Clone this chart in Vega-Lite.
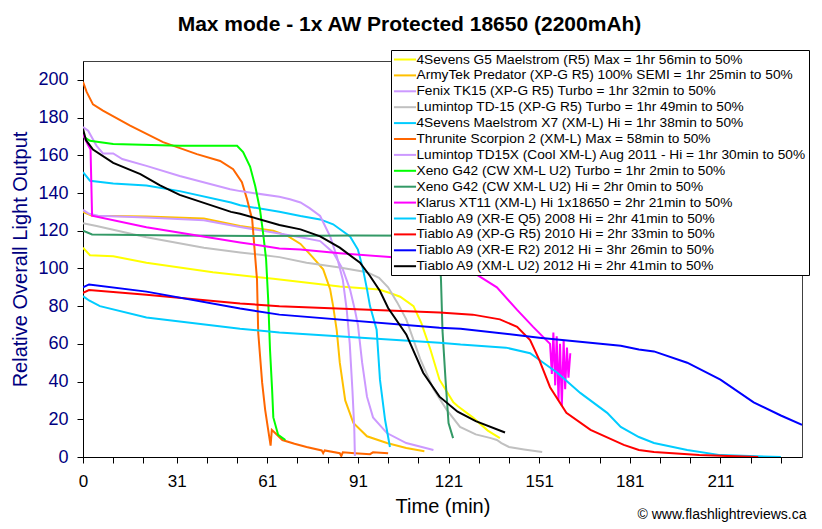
{
  "$schema": "https://vega.github.io/schema/vega-lite/v6.json",
  "width": 719,
  "height": 396,
  "autosize": {"type": "none"},
  "padding": {"left": 83, "top": 61, "right": 20, "bottom": 72},
  "background": "white",
  "title": {"text": "Max mode - 1x AW Protected 18650 (2200mAh)", "font": "Liberation Sans", "fontSize": 21, "fontWeight": "bold", "color": "black", "anchor": "middle", "dx": -33, "offset": 15},
  "config": {"view": {"stroke": "#404040", "strokeWidth": 1}, "font": "Liberation Sans", "axis": {"labelOverlap": false, "labelFlush": false, "grid": false, "tickCount": 100}},
  "datasets": {
    "names": [
      {"s": 1, "name": "4Sevens G5 Maelstrom (R5) Max = 1hr 56min to 50%"},
      {"s": 2, "name": "ArmyTek Predator (XP-G R5) 100% SEMI = 1hr 25min to 50%"},
      {"s": 3, "name": "Fenix TK15 (XP-G R5) Turbo = 1hr 32min to 50%"},
      {"s": 4, "name": "Lumintop TD-15 (XP-G R5) Turbo = 1hr 49min to 50%"},
      {"s": 5, "name": "4Sevens Maelstrom X7 (XM-L) Hi = 1hr 38min to 50%"},
      {"s": 6, "name": "Thrunite Scorpion 2 (XM-L) Max = 58min to 50%"},
      {"s": 7, "name": "Lumintop TD15X (Cool XM-L) Aug 2011 - Hi = 1hr 30min to 50%"},
      {"s": 8, "name": "Xeno G42 (CW XM-L U2) Turbo = 1hr 2min to 50%"},
      {"s": 9, "name": "Xeno G42 (CW XM-L U2) Hi = 2hr 0min to 50%"},
      {"s": 10, "name": "Klarus XT11 (XM-L) Hi 1x18650 = 2hr 21min to 50%"},
      {"s": 11, "name": "Tiablo A9 (XR-E Q5) 2008 Hi = 2hr 41min to 50%"},
      {"s": 12, "name": "Tiablo A9 (XP-G R5) 2010 Hi = 2hr 33min to 50%"},
      {"s": 13, "name": "Tiablo A9 (XR-E R2) 2012 Hi = 3hr 26min to 50%"},
      {"s": 14, "name": "Tiablo A9 (XM-L U2) 2012 Hi = 2hr 41min to 50%"}
    ],
    "pts": [
      {"s":1,"t":0,"v":111},{"s":1,"t":2.3,"v":107},{"s":1,"t":10,"v":106.5},{"s":1,"t":21,"v":103},{"s":1,"t":43,"v":98},{"s":1,"t":63,"v":94.5},{"s":1,"t":85,"v":90.4},{"s":1,"t":98,"v":88.8},{"s":1,"t":101.6,"v":87},{"s":1,"t":105,"v":85},{"s":1,"t":109.4,"v":80},{"s":1,"t":112,"v":71},{"s":1,"t":115,"v":57},{"s":1,"t":118,"v":41},{"s":1,"t":122.6,"v":29},{"s":1,"t":124,"v":27},{"s":1,"t":129,"v":21},{"s":1,"t":134,"v":14},{"s":1,"t":138,"v":10},
      {"s":2,"t":0,"v":130},{"s":2,"t":3,"v":128},{"s":2,"t":21,"v":127.5},{"s":2,"t":40,"v":126.5},{"s":2,"t":52,"v":122.5},{"s":2,"t":63,"v":120},{"s":2,"t":68,"v":117},{"s":2,"t":72,"v":113},{"s":2,"t":76,"v":106},{"s":2,"t":79.5,"v":99.5},{"s":2,"t":81.8,"v":89},{"s":2,"t":82.8,"v":80},{"s":2,"t":84,"v":67},{"s":2,"t":85,"v":50},{"s":2,"t":86.8,"v":30},{"s":2,"t":89.5,"v":18},{"s":2,"t":94,"v":11},{"s":2,"t":100.6,"v":7.4},{"s":2,"t":107,"v":4.8},{"s":2,"t":113,"v":3},
      {"s":3,"t":0,"v":131},{"s":3,"t":2,"v":129},{"s":3,"t":5,"v":128},{"s":3,"t":21,"v":127},{"s":3,"t":40,"v":125.5},{"s":3,"t":52,"v":122},{"s":3,"t":65,"v":118.5},{"s":3,"t":72,"v":116.5},{"s":3,"t":78.5,"v":114.5},{"s":3,"t":82.8,"v":108.5},{"s":3,"t":86,"v":99.5},{"s":3,"t":88.4,"v":88.8},{"s":3,"t":90,"v":78},{"s":3,"t":91,"v":70},{"s":3,"t":92.4,"v":50},{"s":3,"t":94,"v":32},{"s":3,"t":96,"v":21},{"s":3,"t":100.6,"v":12.7},{"s":3,"t":107,"v":7.4},{"s":3,"t":116,"v":3.7},
      {"s":4,"t":0,"v":124},{"s":4,"t":4.5,"v":122.5},{"s":4,"t":21,"v":116.5},{"s":4,"t":40,"v":111},{"s":4,"t":52,"v":108.5},{"s":4,"t":65,"v":106},{"s":4,"t":74,"v":103},{"s":4,"t":85,"v":100.5},{"s":4,"t":94,"v":98},{"s":4,"t":98,"v":95},{"s":4,"t":101,"v":90},{"s":4,"t":104,"v":82},{"s":4,"t":107,"v":73},{"s":4,"t":111.6,"v":52},{"s":4,"t":116,"v":36},{"s":4,"t":120.4,"v":25},{"s":4,"t":124.8,"v":16},{"s":4,"t":130,"v":12},{"s":4,"t":135,"v":10},{"s":4,"t":137,"v":9},{"s":4,"t":138.5,"v":7.4},{"s":4,"t":141,"v":5.3},{"s":4,"t":146,"v":4},{"s":4,"t":152,"v":2.6},
      {"s":5,"t":0,"v":151},{"s":5,"t":2.3,"v":146.5},{"s":5,"t":10,"v":145},{"s":5,"t":21,"v":144},{"s":5,"t":32,"v":141},{"s":5,"t":49,"v":135},{"s":5,"t":52,"v":133.5},{"s":5,"t":65,"v":130},{"s":5,"t":72,"v":127.8},{"s":5,"t":78.5,"v":126},{"s":5,"t":82.8,"v":123.4},{"s":5,"t":88.4,"v":117},{"s":5,"t":91,"v":110},{"s":5,"t":92.7,"v":99.5},{"s":5,"t":94,"v":89},{"s":5,"t":95,"v":80},{"s":5,"t":97.2,"v":67.5},{"s":5,"t":98.3,"v":41},{"s":5,"t":100,"v":19.6},{"s":5,"t":101.6,"v":5.3},
      {"s":6,"t":0,"v":199},{"s":6,"t":1.2,"v":193.6},{"s":6,"t":3.3,"v":187},{"s":6,"t":6.6,"v":183.7},{"s":6,"t":15.6,"v":175.7},{"s":6,"t":26.5,"v":167},{"s":6,"t":37.7,"v":160.6},{"s":6,"t":45.4,"v":157},{"s":6,"t":49.7,"v":152.6},{"s":6,"t":52.6,"v":145.7},{"s":6,"t":54.3,"v":136.7},{"s":6,"t":56,"v":126},{"s":6,"t":57,"v":106},{"s":6,"t":57.6,"v":94},{"s":6,"t":58,"v":66},{"s":6,"t":59.3,"v":39.4},{"s":6,"t":60.3,"v":25},{"s":6,"t":61.3,"v":14.4},{"s":6,"t":62.1,"v":6},{"s":6,"t":62.5,"v":14.4},{"s":6,"t":63.6,"v":12.7},{"s":6,"t":66,"v":9},{"s":6,"t":70,"v":7},{"s":6,"t":74,"v":5.3},{"s":6,"t":79,"v":3.5},{"s":6,"t":79.5,"v":2},{"s":6,"t":80,"v":3.5},{"s":6,"t":85,"v":2},{"s":6,"t":85.5,"v":0.5},{"s":6,"t":86,"v":2.5},{"s":6,"t":90,"v":2},{"s":6,"t":95,"v":1.5},{"s":6,"t":96,"v":2.5},{"s":6,"t":101,"v":2},
      {"s":7,"t":0,"v":175},{"s":7,"t":1.7,"v":173},{"s":7,"t":4.5,"v":165},{"s":7,"t":6.6,"v":161},{"s":7,"t":10,"v":161},{"s":7,"t":13,"v":158},{"s":7,"t":21,"v":154.4},{"s":7,"t":32,"v":149},{"s":7,"t":48.7,"v":142},{"s":7,"t":52,"v":141},{"s":7,"t":65,"v":138},{"s":7,"t":68.5,"v":136.7},{"s":7,"t":72,"v":135},{"s":7,"t":75,"v":132},{"s":7,"t":78.5,"v":127.8},{"s":7,"t":81.8,"v":117},{"s":7,"t":84,"v":106.5},{"s":7,"t":86,"v":94},{"s":7,"t":87.3,"v":78},{"s":7,"t":88.3,"v":60},{"s":7,"t":89.2,"v":35},{"s":7,"t":89.8,"v":15},{"s":7,"t":90,"v":0.5},
      {"s":8,"t":0,"v":170},{"s":8,"t":2.3,"v":167.7},{"s":8,"t":10,"v":166},{"s":8,"t":32,"v":165},{"s":8,"t":51,"v":165},{"s":8,"t":53,"v":161.7},{"s":8,"t":55.3,"v":154},{"s":8,"t":57,"v":143.7},{"s":8,"t":58.6,"v":131},{"s":8,"t":59.6,"v":119},{"s":8,"t":60.6,"v":105},{"s":8,"t":61.3,"v":83.5},{"s":8,"t":61.9,"v":57},{"s":8,"t":62.6,"v":35.6},{"s":8,"t":63,"v":21},{"s":8,"t":64.6,"v":11.7},{"s":8,"t":67,"v":9},
      {"s":9,"t":0,"v":120},{"s":9,"t":3,"v":118},{"s":9,"t":32,"v":117.5},{"s":9,"t":60,"v":117.2},{"s":9,"t":90,"v":117.5},{"s":9,"t":117.5,"v":117.3},{"s":9,"t":118,"v":110},{"s":9,"t":118.5,"v":94},{"s":9,"t":119,"v":67},{"s":9,"t":120,"v":41},{"s":9,"t":121,"v":18},{"s":9,"t":122.5,"v":10},
      {"s":10,"t":0,"v":171},{"s":10,"t":1.5,"v":166},{"s":10,"t":2.5,"v":163},{"s":10,"t":3,"v":128},{"s":10,"t":21,"v":121.8},{"s":10,"t":52,"v":113.8},{"s":10,"t":65,"v":110.6},{"s":10,"t":72,"v":110},{"s":10,"t":85,"v":108},{"s":10,"t":101.6,"v":106},{"s":10,"t":118,"v":103},{"s":10,"t":125,"v":101},{"s":10,"t":129,"v":98},{"s":10,"t":137,"v":90},{"s":10,"t":143.7,"v":78},{"s":10,"t":149,"v":69},{"s":10,"t":154.6,"v":60},{"s":10,"t":155.2,"v":44},{"s":10,"t":155.7,"v":66},{"s":10,"t":156.3,"v":38},{"s":10,"t":156.8,"v":64},{"s":10,"t":157.4,"v":30},{"s":10,"t":157.9,"v":60},{"s":10,"t":158.5,"v":27},{"s":10,"t":159.1,"v":62},{"s":10,"t":159.6,"v":36},{"s":10,"t":160.2,"v":58},{"s":10,"t":160.7,"v":42},{"s":10,"t":161.3,"v":55},
      {"s":11,"t":0,"v":85.3},{"s":11,"t":2,"v":83},{"s":11,"t":5.6,"v":80},{"s":11,"t":21,"v":74},{"s":11,"t":52,"v":68},{"s":11,"t":65,"v":66},{"s":11,"t":118,"v":60.6},{"s":11,"t":125,"v":59.6},{"s":11,"t":140,"v":58},{"s":11,"t":148,"v":55},{"s":11,"t":151,"v":51.6},{"s":11,"t":157,"v":44.7},{"s":11,"t":164.6,"v":34},{"s":11,"t":173.5,"v":23.4},{"s":11,"t":178,"v":16},{"s":11,"t":184,"v":10.6},{"s":11,"t":189,"v":7.4},{"s":11,"t":200,"v":3.7},{"s":11,"t":211,"v":1},{"s":11,"t":231,"v":0},
      {"s":12,"t":0,"v":87},{"s":12,"t":2,"v":88.5},{"s":12,"t":21,"v":86},{"s":12,"t":52,"v":81.4},{"s":12,"t":65,"v":80},{"s":12,"t":118,"v":76.6},{"s":12,"t":129,"v":75.5},{"s":12,"t":138,"v":73},{"s":12,"t":143.7,"v":69},{"s":12,"t":148,"v":62},{"s":12,"t":151,"v":51.6},{"s":12,"t":154.6,"v":37},{"s":12,"t":160,"v":23.4},{"s":12,"t":168,"v":14.4},{"s":12,"t":179,"v":6.4},{"s":12,"t":184,"v":3.7},{"s":12,"t":189,"v":2.6},{"s":12,"t":204,"v":1},{"s":12,"t":223.5,"v":0},
      {"s":13,"t":0,"v":90},{"s":13,"t":2,"v":91.5},{"s":13,"t":21,"v":87.7},{"s":13,"t":52,"v":78.7},{"s":13,"t":65,"v":75.5},{"s":13,"t":118,"v":68.6},{"s":13,"t":125,"v":68},{"s":13,"t":151,"v":63.3},{"s":13,"t":178,"v":59},{"s":13,"t":184,"v":57},{"s":13,"t":189,"v":56},{"s":13,"t":200,"v":50},{"s":13,"t":211,"v":41},{"s":13,"t":222,"v":29},{"s":13,"t":231,"v":22},{"s":13,"t":238,"v":17},
      {"s":14,"t":0,"v":174},{"s":14,"t":1,"v":168},{"s":14,"t":3.3,"v":163},{"s":14,"t":10,"v":156},{"s":14,"t":19,"v":150},{"s":14,"t":25.5,"v":144},{"s":14,"t":32,"v":139},{"s":14,"t":49,"v":130},{"s":14,"t":52,"v":129},{"s":14,"t":65,"v":123},{"s":14,"t":72,"v":120.7},{"s":14,"t":78.5,"v":117},{"s":14,"t":85,"v":111},{"s":14,"t":91.7,"v":103},{"s":14,"t":95,"v":96},{"s":14,"t":98.3,"v":88},{"s":14,"t":101,"v":79},{"s":14,"t":104,"v":72},{"s":14,"t":107,"v":65},{"s":14,"t":112.6,"v":44.7},{"s":14,"t":118,"v":32},{"s":14,"t":124,"v":24},{"s":14,"t":130,"v":19},{"s":14,"t":139.7,"v":13}
    ],
    "note": [{"note": "© www.flashlightreviews.ca"}]
  },
  "layer": [
    {
      "data": {"name": "pts"},
      "transform": [{"lookup": "s", "from": {"data": {"name": "names"}, "key": "s", "fields": ["name"]}}],
      "mark": {"type": "line", "strokeWidth": 2, "clip": true},
      "encoding": {
        "x": {
          "field": "t", "type": "quantitative",
          "scale": {"domain": [0, 238], "nice": false, "zero": false},
          "axis": {
            "title": "Time (min)", "titleFont": "Liberation Sans", "titleFontSize": 20, "titleFontWeight": "normal", "titleColor": "black", "titlePadding": 7,
            "values": [0,10,20,31,41,51,61,71,81,91,101,111,121,131,141,151,161,171,181,191,201,211,221,231],
            "tickCount": 100,
            "labelExpr": "(datum.value == 0 || datum.value % 30 == 1) ? datum.label : ''",
            "labelFont": "Liberation Sans", "labelFontSize": 17, "labelColor": "black", "labelPadding": 10,
            "tickSize": 6, "tickColor": "black", "domainColor": "black", "grid": false, "labelOverlap": false, "labelFlush": false
          }
        },
        "y": {
          "field": "v", "type": "quantitative",
          "scale": {"domain": [0, 210], "nice": false},
          "axis": {
            "title": "Relative Overall Light Output", "titleFont": "Liberation Sans", "titleFontSize": 20, "titleFontWeight": "normal", "titleColor": "#000080", "titlePadding": 7,
            "values": [0,20,40,60,80,100,120,140,160,180,200],
            "tickCount": 100,
            "labelFont": "Liberation Sans", "labelFontSize": 18, "labelColor": "#000080", "labelPadding": 9, "labelOverlap": false,
            "tickSize": 6, "tickColor": "black", "domainColor": "black", "grid": false
          }
        },
        "color": {
          "field": "name", "type": "nominal",
          "scale": {
            "domain": [
              "4Sevens G5 Maelstrom (R5) Max = 1hr 56min to 50%",
              "ArmyTek Predator (XP-G R5) 100% SEMI = 1hr 25min to 50%",
              "Fenix TK15 (XP-G R5) Turbo = 1hr 32min to 50%",
              "Lumintop TD-15 (XP-G R5) Turbo = 1hr 49min to 50%",
              "4Sevens Maelstrom X7 (XM-L) Hi = 1hr 38min to 50%",
              "Thrunite Scorpion 2 (XM-L) Max = 58min to 50%",
              "Lumintop TD15X (Cool XM-L) Aug 2011 - Hi = 1hr 30min to 50%",
              "Xeno G42 (CW XM-L U2) Turbo = 1hr 2min to 50%",
              "Xeno G42 (CW XM-L U2) Hi = 2hr 0min to 50%",
              "Klarus XT11 (XM-L) Hi 1x18650 = 2hr 21min to 50%",
              "Tiablo A9 (XR-E Q5) 2008 Hi = 2hr 41min to 50%",
              "Tiablo A9 (XP-G R5) 2010 Hi = 2hr 33min to 50%",
              "Tiablo A9 (XR-E R2) 2012 Hi = 3hr 26min to 50%",
              "Tiablo A9 (XM-L U2) 2012 Hi = 2hr 41min to 50%"
            ],
            "range": ["#FFFF00", "#FFC000", "#CC99FF", "#C0C0C0", "#00CCFF", "#FF6600", "#CC99FF", "#00FF00", "#339966", "#FF00FF", "#00CCFF", "#FF0000", "#0000FF", "#000000"]
          },
          "legend": {
            "orient": "none", "legendX": 308, "legendY": -11, "title": null,
            "symbolType": "M-1.7,0H1.7", "symbolSize": 169, "symbolStrokeWidth": 2, "symbolOffset": 4.5,
            "labelFont": "Liberation Sans", "labelFontSize": 13.7, "labelColor": "black", "labelLimit": 0, "labelOffset": 4,
            "rowPadding": 0.9, "padding": 2, "strokeColor": "black", "fillColor": "white"
          }
        }
      }
    },
    {
      "data": {"name": "note"},
      "mark": {"type": "text", "align": "right", "baseline": "middle", "font": "Liberation Sans", "fontSize": 14, "color": "black"},
      "encoding": {
        "text": {"field": "note"},
        "x": {"datum": 239.5},
        "y": {"datum": -31}
      }
    }
  ]
}
